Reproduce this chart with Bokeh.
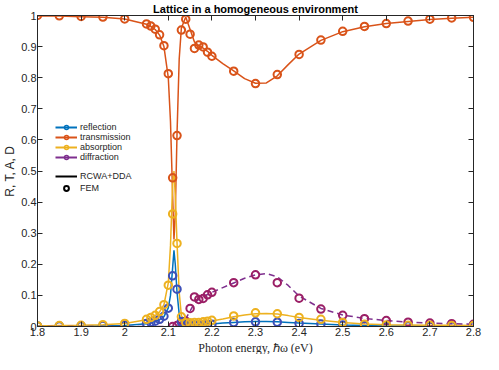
from bokeh.plotting import figure
from bokeh.models import (Range1d, LinearAxis, FixedTicker, CustomJSTickFormatter,
                          Legend, LegendItem, Title)
from bokeh.embed import file_html
from bokeh.resources import INLINE

# ---------------- data ----------------
x_ticks = [1.8, 1.9, 2.0, 2.1, 2.2, 2.3, 2.4, 2.5, 2.6, 2.7, 2.8]
y_ticks = [0, 0.1, 0.2, 0.3, 0.4, 0.5, 0.6, 0.7, 0.8, 0.9, 1.0]

# FEM sample energies
x_fem = [1.8, 1.85, 1.9, 1.95, 2.0, 2.05, 2.06, 2.07, 2.08, 2.09, 2.10, 2.11, 2.12, 2.13,
         2.14, 2.15, 2.16, 2.17, 2.18, 2.19, 2.20, 2.25, 2.30, 2.35, 2.40, 2.45, 2.50,
         2.55, 2.60, 2.65, 2.70, 2.75, 2.80]
fem_reflection = [0.002, 0.002, 0.002, 0.003, 0.004, 0.010, 0.013, 0.017, 0.023, 0.033, 0.059,
                  0.163, 0.120, 0.015, 0.004, 0.004, 0.005, 0.005, 0.006, 0.006, 0.007, 0.013,
                  0.015, 0.014, 0.010, 0.008, 0.005, 0.003, 0.002, 0.002, 0.002, 0.002, 0.002]
fem_transmission = [1.0, 0.999, 0.997, 0.995, 0.989, 0.973, 0.966, 0.956, 0.938, 0.903, 0.813,
                    0.478, 0.614, 0.953, 0.988, 0.940, 0.894, 0.905, 0.899, 0.882, 0.869, 0.821,
                    0.781, 0.810, 0.875, 0.921, 0.949, 0.965, 0.974, 0.982, 0.988, 0.992, 0.994]
fem_absorption = [0.002, 0.003, 0.004, 0.006, 0.010, 0.023, 0.029, 0.036, 0.048, 0.070, 0.133,
                  0.362, 0.267, 0.031, 0.012, 0.012, 0.013, 0.013, 0.015, 0.017, 0.020, 0.034,
                  0.044, 0.041, 0.029, 0.023, 0.013, 0.007, 0.005, 0.004, 0.004, 0.003, 0.003]
x_fem_diff = [2.11, 2.12, 2.13, 2.14, 2.15, 2.16, 2.17, 2.18, 2.19, 2.20, 2.25, 2.30, 2.35,
              2.40, 2.45, 2.50, 2.55, 2.60, 2.65, 2.70, 2.75, 2.80]
fem_diffraction = [0.0, 0.003, 0.015, 0.017, 0.058, 0.095, 0.087, 0.090, 0.102, 0.110, 0.141,
                   0.166, 0.141, 0.091, 0.056, 0.036, 0.025, 0.019, 0.014, 0.011, 0.009, 0.007]

# RCWA+DDA curves
x_line = [1.8, 1.85, 1.9, 1.95, 2.0, 2.05, 2.06, 2.07, 2.08, 2.09, 2.10, 2.105, 2.11, 2.113,
          2.116, 2.12, 2.125, 2.13, 2.14, 2.15, 2.16, 2.17, 2.18, 2.19, 2.2, 2.225, 2.25,
          2.275, 2.3, 2.325, 2.35, 2.375, 2.4, 2.45, 2.5, 2.55, 2.6, 2.65, 2.7, 2.75, 2.8]
rcwa_reflection = [0.001, 0.001, 0.002, 0.002, 0.003, 0.009, 0.012, 0.016, 0.022, 0.032, 0.06,
                   0.10, 0.19, 0.245, 0.20, 0.11, 0.04, 0.012, 0.005, 0.005, 0.005, 0.006,
                   0.006, 0.007, 0.008, 0.011, 0.013, 0.015, 0.016, 0.016, 0.015, 0.013, 0.011,
                   0.008, 0.005, 0.003, 0.002, 0.002, 0.001, 0.001, 0.001]
rcwa_transmission = [0.998, 0.998, 0.996, 0.994, 0.989, 0.972, 0.965, 0.955, 0.937, 0.90, 0.80,
                     0.66, 0.42, 0.28, 0.36, 0.62, 0.86, 0.96, 0.995, 0.955, 0.915, 0.903,
                     0.895, 0.885, 0.872, 0.845, 0.822, 0.797, 0.782, 0.783, 0.806, 0.842,
                     0.876, 0.92, 0.948, 0.964, 0.974, 0.981, 0.987, 0.991, 0.994]
rcwa_absorption = [0.002, 0.003, 0.004, 0.006, 0.01, 0.022, 0.028, 0.035, 0.047, 0.07, 0.14,
                   0.26, 0.46, 0.50, 0.42, 0.27, 0.11, 0.035, 0.013, 0.012, 0.013, 0.014,
                   0.015, 0.016, 0.018, 0.024, 0.031, 0.037, 0.041, 0.042, 0.04, 0.035, 0.029,
                   0.02, 0.013, 0.008, 0.006, 0.005, 0.004, 0.004, 0.003]
rcwa_diffraction = [0, 0, 0, 0, 0, 0, 0, 0, 0, 0, 0, 0, 0, 0, 0, 0.002, 0.006, 0.012, 0.025,
                    0.05, 0.075, 0.088, 0.096, 0.103, 0.11, 0.125, 0.14, 0.155, 0.166, 0.17,
                    0.16, 0.132, 0.098, 0.058, 0.037, 0.026, 0.019, 0.014, 0.011, 0.009, 0.007]

series_labels = ["reflection", "transmission", "absorption", "diffraction"]
method_labels = ["RCWA+DDA", "FEM"]
x_title = "Photon energy, ℏω (eV)"
y_title = "R, T, A, D"
chart_title = "Lattice in a homogeneous environment"
nan_pt = [float("nan")]  # legend-only renderers draw nothing in the plot

# ---------------- styles ----------------
C_BLUE = "#0072BD"
C_ORANGE = "#D95319"
C_YELLOW = "#EDB120"
C_PURPLE = "#7E2F8E"
C_REFL_MK = "#3D4FB8"
C_DIFF_MK = "#9B1F66"
TXT = "#262626"
SANS = "Liberation Sans"

p = figure(width=483, height=354, output_backend="svg", toolbar_location=None,
           x_range=Range1d(1.8, 2.8), y_range=Range1d(0, 1),
           min_border_left=24, min_border_right=10, min_border_top=0, min_border_bottom=0)
p.background_fill_color = "white"
p.outline_line_color = TXT
p.outline_line_width = 1
p.grid.visible = False

p.title.text = chart_title
p.title.align = "center"
p.title.text_font = SANS
p.title.text_font_size = "11px"
p.title.text_font_style = "bold"
p.title.text_color = "black"
p.title.standoff = 1

fmt = CustomJSTickFormatter(code="return String(Math.round(tick*10)/10);")
fmt_blank = CustomJSTickFormatter(code="return '';")


def style_axis(ax, ticks, labels=True):
    ax.ticker = FixedTicker(ticks=ticks)
    ax.major_tick_in = 5
    ax.major_tick_out = 0
    ax.minor_tick_line_color = None
    ax.axis_line_color = TXT
    ax.major_tick_line_color = TXT
    ax.major_label_text_font = SANS
    ax.major_label_text_color = TXT
    if labels:
        ax.formatter = fmt
        ax.major_label_text_font_size = "11px"
        ax.major_label_standoff = 1
    else:
        ax.formatter = fmt_blank
        ax.major_label_text_font_size = "2px"
        ax.major_label_standoff = 0


style_axis(p.xaxis[0], x_ticks)
style_axis(p.yaxis[0], y_ticks)
p.yaxis[0].axis_label = y_title
p.yaxis[0].axis_label_text_font = SANS
p.yaxis[0].axis_label_text_font_size = "12px"
p.yaxis[0].axis_label_text_font_style = "normal"
p.yaxis[0].axis_label_text_color = TXT
p.yaxis[0].axis_label_standoff = 1

ax_r = LinearAxis()
style_axis(ax_r, y_ticks, labels=False)
p.add_layout(ax_r, "right")
ax_t = LinearAxis()
style_axis(ax_t, x_ticks, labels=False)
p.add_layout(ax_t, "above")

# x-axis title as a Title below the axis
p.add_layout(Title(text=x_title, align="center", text_font="Liberation Serif",
                   text_font_size="12px", text_font_style="normal", text_color=TXT,
                   standoff=0), "below")

# ---------------- curves ----------------
p.line(x_line, rcwa_reflection, line_color=C_BLUE, line_width=1.5)
p.line(x_line, rcwa_transmission, line_color=C_ORANGE, line_width=1.5)
p.line(x_line, rcwa_absorption, line_color=C_YELLOW, line_width=1.5)
p.line(x_line, rcwa_diffraction, line_color=C_PURPLE, line_width=1.5, line_dash="6 4")

MK = dict(marker="circle", size=7.5, line_width=2, fill_color=None)
p.scatter(x_fem_diff, fem_diffraction, line_color=C_DIFF_MK, **MK)
p.scatter(x_fem, fem_reflection, line_color=C_REFL_MK, **MK)
p.scatter(x_fem, fem_absorption, line_color=C_YELLOW, **MK)
p.scatter(x_fem, fem_transmission, line_color=C_ORANGE, **MK)

# ---------------- legends ----------------
items1 = []
for lab, col in zip(series_labels, [C_BLUE, C_ORANGE, C_YELLOW, C_PURPLE]):
    lr = p.line(x=nan_pt, y=nan_pt, line_color=col, line_width=2)
    sr = p.scatter(x=nan_pt, y=nan_pt, marker="circle", size=6, line_width=1.5,
                   line_color=col, fill_color=None)
    items1.append(LegendItem(label=lab, renderers=[lr, sr]))

lk = p.line(x=nan_pt, y=nan_pt, line_color="black", line_width=2)
sk = p.scatter(x=nan_pt, y=nan_pt, marker="circle", size=6, line_width=2,
               line_color="black", fill_color=None)
items2 = [LegendItem(label=method_labels[0], renderers=[lk]),
          LegendItem(label=method_labels[1], renderers=[sk])]


def style_legend(lg, lh):
    lg.padding = 0
    lg.margin = 0
    lg.spacing = 0
    lg.glyph_width = 22
    lg.glyph_height = lh
    lg.label_height = lh
    lg.label_standoff = 3
    lg.label_text_font = SANS
    lg.label_text_font_size = "9px"
    lg.label_text_color = TXT
    lg.border_line_alpha = 0
    lg.background_fill_alpha = 0


leg1 = Legend(items=items1, location=(18, 164))
style_legend(leg1, 10)
leg2 = Legend(items=items2, location=(18, 132))
style_legend(leg2, 12)
p.add_layout(leg1)
p.add_layout(leg2)

open("out.html", "w").write(file_html(p, INLINE))
